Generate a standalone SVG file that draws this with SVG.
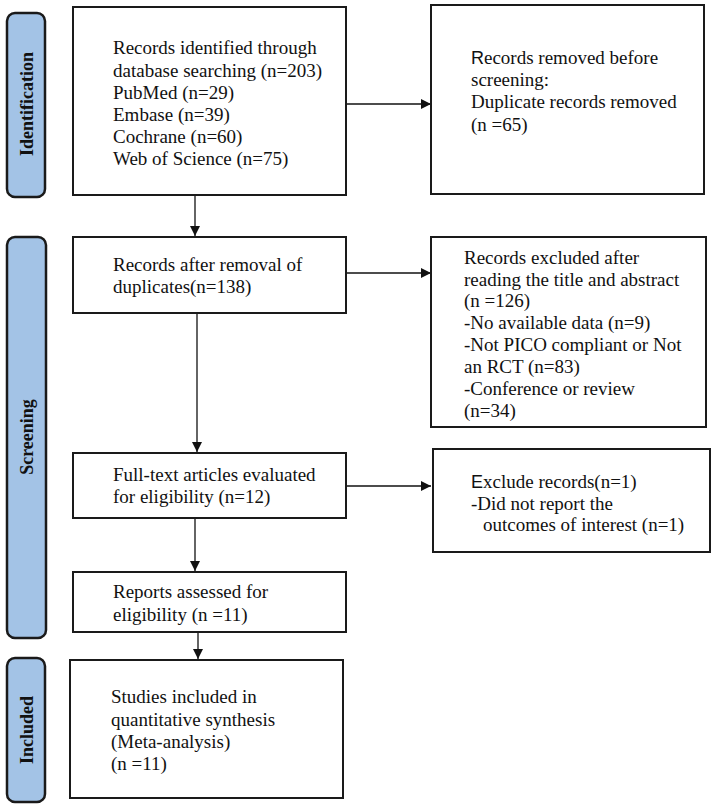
<svg xmlns="http://www.w3.org/2000/svg" width="715" height="807" viewBox="0 0 715 807">
<defs>
<marker id="ah" viewBox="0 0 10 10" refX="10" refY="5" markerWidth="10" markerHeight="10" markerUnits="userSpaceOnUse" orient="auto">
<path d="M0,0 L10,5 L0,10 z" fill="#111"/>
</marker>
<style>
.box{fill:#fff;stroke:#1a1a1a;stroke-width:2}
.side{fill:#a3c3e6;stroke:#1a1a1a;stroke-width:2.5}
.t{font-family:"Liberation Serif","Times New Roman",serif;font-size:19px;fill:#111}
.s{font-family:"Liberation Sans",Arial,sans-serif;font-size:18px}
.lbl{font-family:"Liberation Serif","Times New Roman",serif;font-size:18px;font-weight:bold;fill:#111}
.c{stroke:#111;stroke-width:1.3;fill:none}
</style>
</defs>
<rect width="715" height="807" fill="#fff"/>
<g id="phase-identification">
<rect class="side" x="7" y="13" width="38" height="184" rx="8"/>
<text class="lbl" transform="translate(33,104) rotate(-90)" text-anchor="middle">Identification</text>
</g>
<g id="phase-screening">
<rect class="side" x="7" y="237" width="39" height="401" rx="8"/>
<text class="lbl" transform="translate(33,437) rotate(-90)" text-anchor="middle">Screening</text>
</g>
<g id="phase-included">
<rect class="side" x="7" y="658" width="38" height="144" rx="8"/>
<text class="lbl" transform="translate(33,730) rotate(-90)" text-anchor="middle">Included</text>
</g>
<g id="connectors">
<line class="c" x1="195" y1="195" x2="195" y2="236" marker-end="url(#ah)"/>
<line class="c" x1="346" y1="104" x2="431" y2="104" marker-end="url(#ah)"/>
<line class="c" x1="346" y1="273" x2="431" y2="273" marker-end="url(#ah)"/>
<line class="c" x1="197" y1="313" x2="197" y2="452" marker-end="url(#ah)"/>
<line class="c" x1="346" y1="486" x2="431" y2="486" marker-end="url(#ah)"/>
<line class="c" x1="195" y1="518" x2="195" y2="571" marker-end="url(#ah)"/>
<line class="c" x1="198" y1="632" x2="198" y2="659" marker-end="url(#ah)"/>
</g>
<g id="identified">
<rect class="box" x="73" y="7" width="273" height="188"/>
<text class="t" x="113" y="54">Records identified through</text>
<text class="t" x="113" y="77">database searching (n=203)</text>
<text class="t" x="113" y="99">PubMed (n=29)</text>
<text class="t" x="113" y="121">Embase (n=39)</text>
<text class="t" x="113" y="143">Cochrane (n=60)</text>
<text class="t" x="113" y="165">Web of Science (n=75)</text>
</g>
<g id="removed">
<rect class="box" x="431" y="5" width="273" height="189"/>
<text class="t" x="471" y="64"><tspan class="s">R</tspan>ecords removed before</text>
<text class="t" x="471" y="86">screening:</text>
<text class="t" x="471" y="108">Duplicate records removed</text>
<text class="t" x="471" y="131">(n =65)</text>
</g>
<g id="after-dup">
<rect class="box" x="73" y="237" width="273" height="76"/>
<text class="t" x="113" y="271">Records after removal of</text>
<text class="t" x="113" y="293">duplicates(n=138)</text>
</g>
<g id="excluded-abstract">
<rect class="box" x="431" y="237" width="275" height="190"/>
<text class="t" x="464" y="264">Records excluded after</text>
<text class="t" x="464" y="286">reading the title and abstract</text>
<text class="t" x="464" y="307">(n =126)</text>
<text class="t" x="464" y="329">-No available data (n=9)</text>
<text class="t" x="464" y="351">-Not PICO compliant or Not</text>
<text class="t" x="464" y="373">an RCT (n=83)</text>
<text class="t" x="464" y="395">-Conference or review</text>
<text class="t" x="464" y="417">(n=34)</text>
</g>
<g id="fulltext">
<rect class="box" x="73" y="453" width="273" height="65"/>
<text class="t" x="113" y="481">Full-text articles evaluated</text>
<text class="t" x="113" y="503">for eligibility (n=12)</text>
</g>
<g id="excluded-fulltext">
<rect class="box" x="433" y="449" width="277" height="103"/>
<text class="t" x="471" y="488"><tspan class="s">E</tspan>xclude records(n=1)</text>
<text class="t" x="471" y="510">-Did not report the</text>
<text class="t" x="483" y="531">outcomes of interest (n=1)</text>
</g>
<g id="reports">
<rect class="box" x="73" y="572" width="273" height="60"/>
<text class="t" x="113" y="598">Reports assessed for</text>
<text class="t" x="113" y="621">eligibility (n =11)</text>
</g>
<g id="included">
<rect class="box" x="70" y="660" width="273" height="138"/>
<text class="t" x="111" y="703">Studies included in</text>
<text class="t" x="111" y="726">quantitative synthesis</text>
<text class="t" x="111" y="748">(Meta-analysis)</text>
<text class="t" x="111" y="770">(n =11)</text>
</g>
</svg>
